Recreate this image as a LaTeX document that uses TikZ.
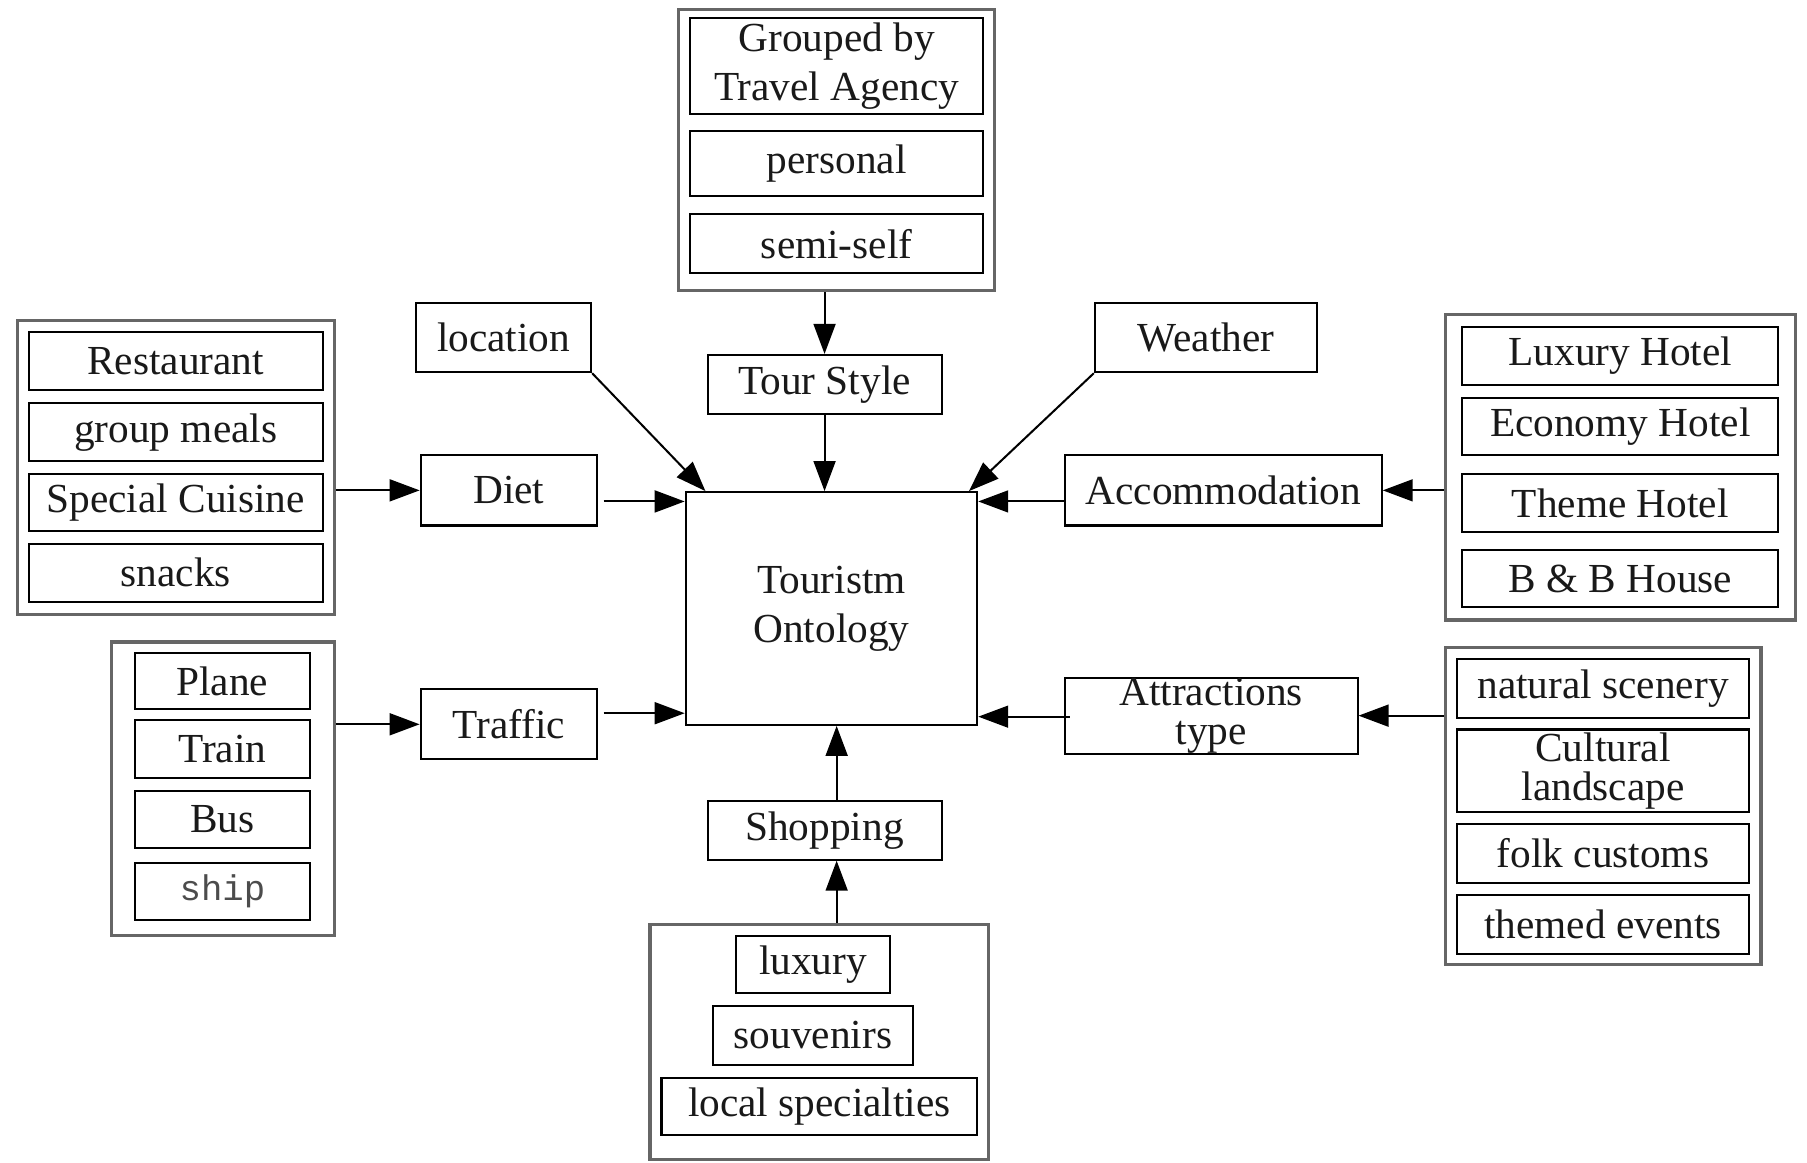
\documentclass[tikz,border=0pt]{standalone}
\usepackage{fontspec}
\setmainfont{Liberation Serif}
\newfontfamily\shipfont{Liberation Mono}
\usetikzlibrary{arrows.meta}
\tikzset{item/.style n args={2}{
			draw, rectangle, line width=.5pt, inner sep=0pt,
			minimum width=#1, minimum height=#2, align=center,
			text=black!90, font=\fontsize{10.2}{12}\selectfont},
	tight/.style={font=\fontsize{10.2}{9.6}\selectfont},
	group/.style n args={2}{
			draw=black!60, rectangle, line width=.8pt,
			minimum width=#1, minimum height=#2},
	link/.style={line width=.5pt, -{Triangle[length=2.6mm, width=1.9mm]}}}

\begin{document}
\begin{tikzpicture}[x=.1mm, y=-.1mm]
	\useasboundingbox (0,0) rectangle (1568,1009);

	% centre
	\node[item={2.53cm}{2.02cm}] (Onto) at (721.5, 528) {Touristm\\Ontology};

	% diet
	\node[group={2.75cm}{2.55cm}] (DietGrp) at (152.5, 405.5) {};
	\node[item={2.55cm}{.5cm}] (Rest) at (152.5, 313) {Restaurant};
	\node[item={2.55cm}{.5cm}] (Meals) at (152.5, 375) {group meals};
	\node[item={2.55cm}{.5cm}] (Cuisine) at (152.5, 436) {Special Cuisine};
	\node[item={2.55cm}{.5cm}] (Snacks) at (152.5, 497) {snacks};
	\node[item={1.53cm}{.61cm}] (Diet) at (441.5, 425.5) {Diet};

	% traffic
	\node[group={1.93cm}{2.55cm}] (TrafGrp) at (193.5, 684.5) {};
	\node[item={1.52cm}{.49cm}] (Plane) at (193, 591) {Plane};
	\node[item={1.52cm}{.5cm}] (Train) at (193, 650) {Train};
	\node[item={1.52cm}{.5cm}] (Bus) at (193, 711) {Bus};
	\node[item={1.52cm}{.5cm}, font=\shipfont\fontsize{8.8}{10}\selectfont, text=black!70] (Ship) at (193, 773.5) {ship};
	\node[item={1.53cm}{.61cm}] (Traffic) at (441.5, 628.5) {Traffic};

	\node[item={1.52cm}{.6cm}] (Loc) at (437, 293) {location};
	\node[item={1.93cm}{.6cm}] (Weather) at (1046.5, 293) {Weather};

	% tour style
	\node[group={2.74cm}{2.44cm}] (TourGrp) at (726, 130) {};
	\node[item={2.54cm}{.83cm}] (Agency) at (726, 57.5) {Grouped by\\Travel Agency};
	\node[item={2.54cm}{.56cm}] (Personal) at (726, 142) {personal};
	\node[item={2.54cm}{.51cm}] (Semi) at (726, 211.5) {semi-self};
	\node[item={2.03cm}{.51cm}] (Tour) at (715.5, 333.5) {Tour Style};

	% accommodation
	\node[group={3.04cm}{2.65cm}] (AccGrp) at (1406, 405.5) {};
	\node[item={2.74cm}{.5cm}] (Luxury) at (1406, 309) {Luxury Hotel};
	\node[item={2.74cm}{.5cm}] (Economy) at (1406, 370) {Economy Hotel};
	\node[item={2.74cm}{.51cm}] (Theme) at (1406, 436.5) {Theme Hotel};
	\node[item={2.74cm}{.5cm}] (BnB) at (1406, 502) {B \& B House};
	\node[item={2.75cm}{.61cm}] (Accom) at (1061.5, 425.5) {Accommodation};

	% attractions
	\node[group={2.74cm}{2.75cm}] (AttrGrp) at (1391, 699.5) {};
	\node[item={2.54cm}{.51cm}] (Natural) at (1391, 597.5) {natural scenery};
	\node[item={2.54cm}{.72cm}, tight] (Cultural) at (1391, 669) {Cultural\\landscape};
	\node[item={2.54cm}{.51cm}] (Folk) at (1391, 740.5) {folk customs};
	\node[item={2.54cm}{.51cm}] (Events) at (1391, 802.5) {themed events};
	\node[item={2.54cm}{.66cm}, tight] (Attr) at (1051, 621) {Attractions\\type};

	% shopping
	\node[group={2.94cm}{2.04cm}] (ShopGrp) at (711, 904) {};
	\node[item={1.33cm}{.5cm}] (Lux) at (705.5, 837) {luxury};
	\node[item={1.73cm}{.51cm}] (Souv) at (705.5, 898.5) {souvenirs};
	\node[item={2.74cm}{.5cm}] (Local) at (711, 960) {local specialties};
	\node[item={2.03cm}{.51cm}] (Shop) at (715.5, 720.5) {Shopping};

	\coordinate (dn) at ([yshift=-.9mm]Onto.north west);
	\coordinate (tn) at ([yshift=1.1mm]Onto.south west);
	\coordinate (an) at ([yshift=-.9mm]Onto.north east);
	\coordinate (rn) at ([yshift=.8mm]Onto.south east);
	\coordinate (sn) at ([xshift=1.05mm]Shop.north);

	\draw[link] (DietGrp.east |- Diet) -- (Diet.west);
	\draw[link, shorten <=.5mm] (Diet.east |- dn) -- (dn);
	\draw[link] (TrafGrp.east |- Traffic) -- (Traffic.west);
	\draw[link, shorten <=.5mm] (Traffic.east |- tn) -- (tn);
	\draw[link] (Loc.south east) -- ([xshift=1.8mm]Onto.north west);
	\draw[link] (Weather.south west) -- ([xshift=-.8mm]Onto.north east);
	\draw[link] (TourGrp.south -| Tour) -- (Tour.north);
	\draw[link] (Tour.south) -- (Onto.north -| Tour);
	\draw[link] (AccGrp.west |- Accom) -- (Accom.east);
	\draw[link] (Accom.west |- an) -- (an);
	\draw[link] (AttrGrp.west |- Attr) -- (Attr.east);
	\draw[link, shorten <=-.5mm] (Attr.west |- rn) -- (rn);
	\draw[link] (ShopGrp.north -| sn) -- (Shop.south -| sn);
	\draw[link] (sn) -- (Onto.south -| sn);

\end{tikzpicture}
\end{document}
